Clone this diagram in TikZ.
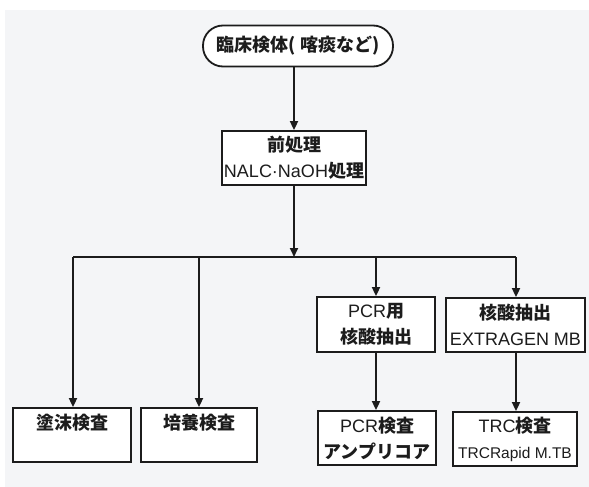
\documentclass[tikz,border=0pt]{standalone}
\usepackage{fontspec}
\setmainfont{Liberation Sans}
\newfontfamily\jpf{Noto Sans CJK JP}
\usetikzlibrary{arrows.meta}
\definecolor{bgc}{HTML}{F4F5F7}
\definecolor{ink}{HTML}{1C1C1C}
\newcommand{\jb}[1]{{\jpf\bfseries #1}}
\begin{document}
\begin{tikzpicture}[x=1pt,y=-1pt,
  box/.style={draw=ink,line width=1.8pt,fill=white,inner sep=0pt,align=center,
    text=ink,font=\fontsize{18}{26}\selectfont},
  conn/.style={draw=ink,line width=1.8pt},
  arr/.style={conn,-{Triangle[length=9pt,width=8pt]}}]
\useasboundingbox (0,0) rectangle (589,487);
\fill[bgc] (5,10) rectangle (589,487);

\node[box,rounded corners=20pt,minimum width=190pt,minimum height=41pt] (a) at (298,46)
  {\jb{臨床検体( 喀痰など)}};
\node[box,minimum width=144pt,minimum height=54pt] (b) at (294,158)
  {\jb{前処理}\\NALC·NaOH\jb{処理}};

\coordinate (j) at (294,257);
\coordinate (jl) at (73,257);
\coordinate (jr) at (516,257);

\node[box,minimum width=118pt,minimum height=54pt] (c1) at (72,435) {\jb{塗沫検査}\\\mbox{}};
\node[box,minimum width=116pt,minimum height=54pt] (c2) at (199,435) {\jb{培養検査}\\\mbox{}};
\node[box,minimum width=118pt,minimum height=55pt] (c3) at (376,324.5) {PCR\jb{用}\\\jb{核酸抽出}};
\node[box,minimum width=139pt,minimum height=54pt] (c4) at (515.5,325) {\jb{核酸抽出}\\EXTRAGEN MB};
\node[box,minimum width=118pt,minimum height=54pt] (d3) at (377,438) {PCR\jb{検査}\\\jb{アンプリコア}};
\node[box,minimum width=124pt,minimum height=54pt] (d4) at (515,439)
  {TRC\jb{検査}\\{\fontsize{15.5}{20}\selectfont TRCRapid M.TB}};

\draw[arr] (b.north |- a.south) -- (b.north);
\draw[arr] (b.south) -- (j);
\draw[conn] (jl) -- (jr);
\draw[arr] (jl) -- (jl |- c1.north);
\draw[arr] (199,257) -- (c2.north);
\draw[arr] (c3.north |- j) -- (c3.north);
\draw[arr] (jr) -- (jr |- c4.north);
\draw[arr] (c3.south) -- (c3.south |- d3.north);
\draw[arr] (c4.south -| jr) -- (jr |- d4.north);
\end{tikzpicture}
\end{document}
